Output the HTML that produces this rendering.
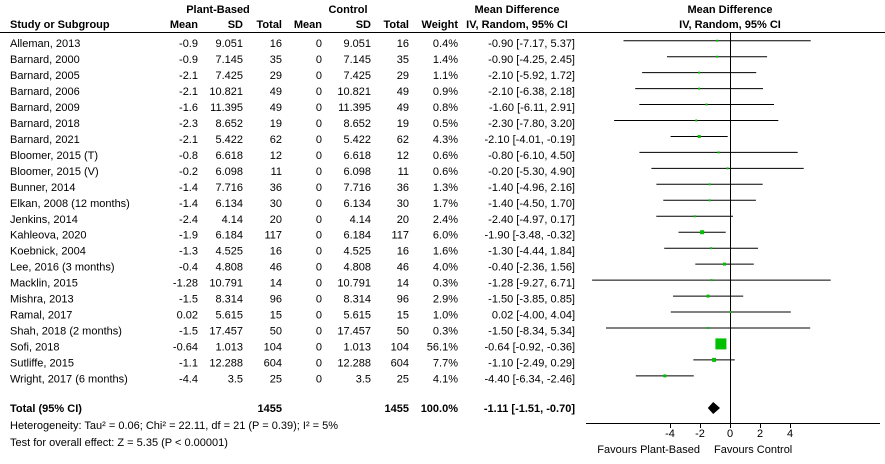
<!DOCTYPE html>
<html><head><meta charset="utf-8"><style>
html,body{margin:0;padding:0;background:#fff;}
svg{display:block;font-family:"Liberation Sans",Arial,sans-serif;font-size:11px;}
.b{font-weight:bold;}
.r text{text-anchor:end;}
</style></head><body>
<svg width="885" height="464" viewBox="0 0 885 464" xmlns="http://www.w3.org/2000/svg">
<g class="b" fill="#000">
<text x="218" y="13" text-anchor="middle">Plant-Based</text>
<text x="348" y="13" text-anchor="middle">Control</text>
<text x="517" y="13" text-anchor="middle">Mean Difference</text>
<text x="730" y="13" text-anchor="middle">Mean Difference</text>
<text x="10" y="28">Study or Subgroup</text>
<text x="198" y="28" text-anchor="end">Mean</text>
<text x="243" y="28" text-anchor="end">SD</text>
<text x="282" y="28" text-anchor="end">Total</text>
<text x="322" y="28" text-anchor="end">Mean</text>
<text x="371" y="28" text-anchor="end">SD</text>
<text x="409" y="28" text-anchor="end">Total</text>
<text x="458" y="28" text-anchor="end">Weight</text>
<text x="517" y="28" text-anchor="middle">IV, Random, 95% CI</text>
<text x="730" y="28" text-anchor="middle">IV, Random, 95% CI</text>
</g>
<line x1="0" y1="32.5" x2="885" y2="32.5" stroke="#000"/>
<line x1="730.5" y1="32" x2="730.5" y2="424" stroke="#000"/>
<line x1="586" y1="423.5" x2="880" y2="423.5" stroke="#000"/>
<g stroke="#000">
<line x1="670.5" y1="423" x2="670.5" y2="428"/>
<line x1="700.5" y1="423" x2="700.5" y2="428"/>
<line x1="730.5" y1="423" x2="730.5" y2="428"/>
<line x1="760.5" y1="423" x2="760.5" y2="428"/>
<line x1="790.5" y1="423" x2="790.5" y2="428"/>
</g>
<g text-anchor="middle">
<text x="670" y="437">-4</text><text x="700" y="437">-2</text><text x="730" y="437">0</text><text x="760" y="437">2</text><text x="790" y="437">4</text>
</g>
<text x="700" y="453" text-anchor="end">Favours Plant-Based</text>
<text x="714" y="453">Favours Control</text>

<g>
<text x="10" y="47.2">Alleman, 2013</text>
<text x="10" y="63.2">Barnard, 2000</text>
<text x="10" y="79.1">Barnard, 2005</text>
<text x="10" y="95.1">Barnard, 2006</text>
<text x="10" y="111">Barnard, 2009</text>
<text x="10" y="127">Barnard, 2018</text>
<text x="10" y="143">Barnard, 2021</text>
<text x="10" y="158.9">Bloomer, 2015 (T)</text>
<text x="10" y="174.9">Bloomer, 2015 (V)</text>
<text x="10" y="190.8">Bunner, 2014</text>
<text x="10" y="206.8">Elkan, 2008 (12 months)</text>
<text x="10" y="222.8">Jenkins, 2014</text>
<text x="10" y="238.7">Kahleova, 2020</text>
<text x="10" y="254.7">Koebnick, 2004</text>
<text x="10" y="270.6">Lee, 2016 (3 months)</text>
<text x="10" y="286.6">Macklin, 2015</text>
<text x="10" y="302.6">Mishra, 2013</text>
<text x="10" y="318.5">Ramal, 2017</text>
<text x="10" y="334.5">Shah, 2018 (2 months)</text>
<text x="10" y="350.4">Sofi, 2018</text>
<text x="10" y="366.4">Sutliffe, 2015</text>
<text x="10" y="382.4">Wright, 2017 (6 months)</text>
</g>
<g class="r">
<text x="198" y="47.2">-0.9</text><text x="243" y="47.2">9.051</text><text x="282" y="47.2">16</text><text x="322" y="47.2">0</text><text x="371" y="47.2">9.051</text><text x="409" y="47.2">16</text><text x="458" y="47.2">0.4%</text><text x="575" y="47.2">-0.90 [-7.17, 5.37]</text>
<text x="198" y="63.2">-0.9</text><text x="243" y="63.2">7.145</text><text x="282" y="63.2">35</text><text x="322" y="63.2">0</text><text x="371" y="63.2">7.145</text><text x="409" y="63.2">35</text><text x="458" y="63.2">1.4%</text><text x="575" y="63.2">-0.90 [-4.25, 2.45]</text>
<text x="198" y="79.1">-2.1</text><text x="243" y="79.1">7.425</text><text x="282" y="79.1">29</text><text x="322" y="79.1">0</text><text x="371" y="79.1">7.425</text><text x="409" y="79.1">29</text><text x="458" y="79.1">1.1%</text><text x="575" y="79.1">-2.10 [-5.92, 1.72]</text>
<text x="198" y="95.1">-2.1</text><text x="243" y="95.1">10.821</text><text x="282" y="95.1">49</text><text x="322" y="95.1">0</text><text x="371" y="95.1">10.821</text><text x="409" y="95.1">49</text><text x="458" y="95.1">0.9%</text><text x="575" y="95.1">-2.10 [-6.38, 2.18]</text>
<text x="198" y="111">-1.6</text><text x="243" y="111">11.395</text><text x="282" y="111">49</text><text x="322" y="111">0</text><text x="371" y="111">11.395</text><text x="409" y="111">49</text><text x="458" y="111">0.8%</text><text x="575" y="111">-1.60 [-6.11, 2.91]</text>
<text x="198" y="127">-2.3</text><text x="243" y="127">8.652</text><text x="282" y="127">19</text><text x="322" y="127">0</text><text x="371" y="127">8.652</text><text x="409" y="127">19</text><text x="458" y="127">0.5%</text><text x="575" y="127">-2.30 [-7.80, 3.20]</text>
<text x="198" y="143">-2.1</text><text x="243" y="143">5.422</text><text x="282" y="143">62</text><text x="322" y="143">0</text><text x="371" y="143">5.422</text><text x="409" y="143">62</text><text x="458" y="143">4.3%</text><text x="575" y="143">-2.10 [-4.01, -0.19]</text>
<text x="198" y="158.9">-0.8</text><text x="243" y="158.9">6.618</text><text x="282" y="158.9">12</text><text x="322" y="158.9">0</text><text x="371" y="158.9">6.618</text><text x="409" y="158.9">12</text><text x="458" y="158.9">0.6%</text><text x="575" y="158.9">-0.80 [-6.10, 4.50]</text>
<text x="198" y="174.9">-0.2</text><text x="243" y="174.9">6.098</text><text x="282" y="174.9">11</text><text x="322" y="174.9">0</text><text x="371" y="174.9">6.098</text><text x="409" y="174.9">11</text><text x="458" y="174.9">0.6%</text><text x="575" y="174.9">-0.20 [-5.30, 4.90]</text>
<text x="198" y="190.8">-1.4</text><text x="243" y="190.8">7.716</text><text x="282" y="190.8">36</text><text x="322" y="190.8">0</text><text x="371" y="190.8">7.716</text><text x="409" y="190.8">36</text><text x="458" y="190.8">1.3%</text><text x="575" y="190.8">-1.40 [-4.96, 2.16]</text>
<text x="198" y="206.8">-1.4</text><text x="243" y="206.8">6.134</text><text x="282" y="206.8">30</text><text x="322" y="206.8">0</text><text x="371" y="206.8">6.134</text><text x="409" y="206.8">30</text><text x="458" y="206.8">1.7%</text><text x="575" y="206.8">-1.40 [-4.50, 1.70]</text>
<text x="198" y="222.8">-2.4</text><text x="243" y="222.8">4.14</text><text x="282" y="222.8">20</text><text x="322" y="222.8">0</text><text x="371" y="222.8">4.14</text><text x="409" y="222.8">20</text><text x="458" y="222.8">2.4%</text><text x="575" y="222.8">-2.40 [-4.97, 0.17]</text>
<text x="198" y="238.7">-1.9</text><text x="243" y="238.7">6.184</text><text x="282" y="238.7">117</text><text x="322" y="238.7">0</text><text x="371" y="238.7">6.184</text><text x="409" y="238.7">117</text><text x="458" y="238.7">6.0%</text><text x="575" y="238.7">-1.90 [-3.48, -0.32]</text>
<text x="198" y="254.7">-1.3</text><text x="243" y="254.7">4.525</text><text x="282" y="254.7">16</text><text x="322" y="254.7">0</text><text x="371" y="254.7">4.525</text><text x="409" y="254.7">16</text><text x="458" y="254.7">1.6%</text><text x="575" y="254.7">-1.30 [-4.44, 1.84]</text>
<text x="198" y="270.6">-0.4</text><text x="243" y="270.6">4.808</text><text x="282" y="270.6">46</text><text x="322" y="270.6">0</text><text x="371" y="270.6">4.808</text><text x="409" y="270.6">46</text><text x="458" y="270.6">4.0%</text><text x="575" y="270.6">-0.40 [-2.36, 1.56]</text>
<text x="198" y="286.6">-1.28</text><text x="243" y="286.6">10.791</text><text x="282" y="286.6">14</text><text x="322" y="286.6">0</text><text x="371" y="286.6">10.791</text><text x="409" y="286.6">14</text><text x="458" y="286.6">0.3%</text><text x="575" y="286.6">-1.28 [-9.27, 6.71]</text>
<text x="198" y="302.6">-1.5</text><text x="243" y="302.6">8.314</text><text x="282" y="302.6">96</text><text x="322" y="302.6">0</text><text x="371" y="302.6">8.314</text><text x="409" y="302.6">96</text><text x="458" y="302.6">2.9%</text><text x="575" y="302.6">-1.50 [-3.85, 0.85]</text>
<text x="198" y="318.5">0.02</text><text x="243" y="318.5">5.615</text><text x="282" y="318.5">15</text><text x="322" y="318.5">0</text><text x="371" y="318.5">5.615</text><text x="409" y="318.5">15</text><text x="458" y="318.5">1.0%</text><text x="575" y="318.5">0.02 [-4.00, 4.04]</text>
<text x="198" y="334.5">-1.5</text><text x="243" y="334.5">17.457</text><text x="282" y="334.5">50</text><text x="322" y="334.5">0</text><text x="371" y="334.5">17.457</text><text x="409" y="334.5">50</text><text x="458" y="334.5">0.3%</text><text x="575" y="334.5">-1.50 [-8.34, 5.34]</text>
<text x="198" y="350.4">-0.64</text><text x="243" y="350.4">1.013</text><text x="282" y="350.4">104</text><text x="322" y="350.4">0</text><text x="371" y="350.4">1.013</text><text x="409" y="350.4">104</text><text x="458" y="350.4">56.1%</text><text x="575" y="350.4">-0.64 [-0.92, -0.36]</text>
<text x="198" y="366.4">-1.1</text><text x="243" y="366.4">12.288</text><text x="282" y="366.4">604</text><text x="322" y="366.4">0</text><text x="371" y="366.4">12.288</text><text x="409" y="366.4">604</text><text x="458" y="366.4">7.7%</text><text x="575" y="366.4">-1.10 [-2.49, 0.29]</text>
<text x="198" y="382.4">-4.4</text><text x="243" y="382.4">3.5</text><text x="282" y="382.4">25</text><text x="322" y="382.4">0</text><text x="371" y="382.4">3.5</text><text x="409" y="382.4">25</text><text x="458" y="382.4">4.1%</text><text x="575" y="382.4">-4.40 [-6.34, -2.46]</text>
</g>

<g stroke="#000" stroke-width="1">
<line x1="623.5" y1="40.7" x2="810.7" y2="40.7"/>
<line x1="667.0" y1="56.7" x2="767.1" y2="56.7"/>
<line x1="642.1" y1="72.6" x2="756.2" y2="72.6"/>
<line x1="635.2" y1="88.6" x2="763.0" y2="88.6"/>
<line x1="639.3" y1="104.5" x2="774.0" y2="104.5"/>
<line x1="614.1" y1="120.5" x2="778.3" y2="120.5"/>
<line x1="670.6" y1="136.5" x2="727.7" y2="136.5"/>
<line x1="639.4" y1="152.4" x2="797.7" y2="152.4"/>
<line x1="651.4" y1="168.4" x2="803.7" y2="168.4"/>
<line x1="656.4" y1="184.3" x2="762.7" y2="184.3"/>
<line x1="663.3" y1="200.3" x2="755.9" y2="200.3"/>
<line x1="656.3" y1="216.3" x2="733.0" y2="216.3"/>
<line x1="678.5" y1="232.2" x2="725.7" y2="232.2"/>
<line x1="664.2" y1="248.2" x2="758.0" y2="248.2"/>
<line x1="695.3" y1="264.1" x2="753.8" y2="264.1"/>
<line x1="592.1" y1="280.1" x2="830.7" y2="280.1"/>
<line x1="673.0" y1="296.1" x2="743.2" y2="296.1"/>
<line x1="670.8" y1="312.0" x2="790.8" y2="312.0"/>
<line x1="606.0" y1="328.0" x2="810.2" y2="328.0"/>
<line x1="693.3" y1="359.9" x2="734.8" y2="359.9"/>
<line x1="635.8" y1="375.9" x2="693.8" y2="375.9"/>
</g>
<g fill="#00c000">
<rect x="716.1" y="39.7" width="2" height="2"/>
<rect x="716.1" y="55.7" width="2" height="2"/>
<rect x="698.2" y="71.6" width="2" height="2"/>
<rect x="698.2" y="87.6" width="2" height="2"/>
<rect x="705.6" y="103.5" width="2" height="2"/>
<rect x="695.2" y="119.5" width="2" height="2"/>
<rect x="697.7" y="135" width="3" height="3"/>
<rect x="717.6" y="151.4" width="2" height="2"/>
<rect x="726.5" y="167.4" width="2" height="2"/>
<rect x="708.6" y="183.3" width="2" height="2"/>
<rect x="708.6" y="199.3" width="2" height="2"/>
<rect x="693.7" y="215.3" width="2" height="2"/>
<rect x="700.1" y="230.2" width="4" height="4"/>
<rect x="710.1" y="247.2" width="2" height="2"/>
<rect x="723" y="262.6" width="3" height="3"/>
<rect x="710.4" y="279.1" width="2" height="2"/>
<rect x="706.6" y="294.6" width="3" height="3"/>
<rect x="729.8" y="311" width="2" height="2"/>
<rect x="707.1" y="327" width="2" height="2"/>
<rect x="715.4" y="338.4" width="11" height="11"/>
<rect x="712.1" y="357.9" width="4" height="4"/>
<rect x="663.3" y="374.4" width="3" height="3"/>
</g>

<text class="b" x="10" y="412">Total (95% CI)</text>
<text class="b" x="282" y="412" text-anchor="end">1455</text>
<text class="b" x="409" y="412" text-anchor="end">1455</text>
<text class="b" x="458" y="412" text-anchor="end">100.0%</text>
<text class="b" x="575" y="412" text-anchor="end">-1.11 [-1.51, -0.70]</text>
<polygon points="707.8,408 713.2,402 720,408 713.2,414" fill="#000"/>
<text x="10" y="429">Heterogeneity: Tau² = 0.06; Chi² = 22.11, df = 21 (P = 0.39); I² = 5%</text>
<text x="10" y="446">Test for overall effect: Z = 5.35 (P &lt; 0.00001)</text>
</svg>
</body></html>
